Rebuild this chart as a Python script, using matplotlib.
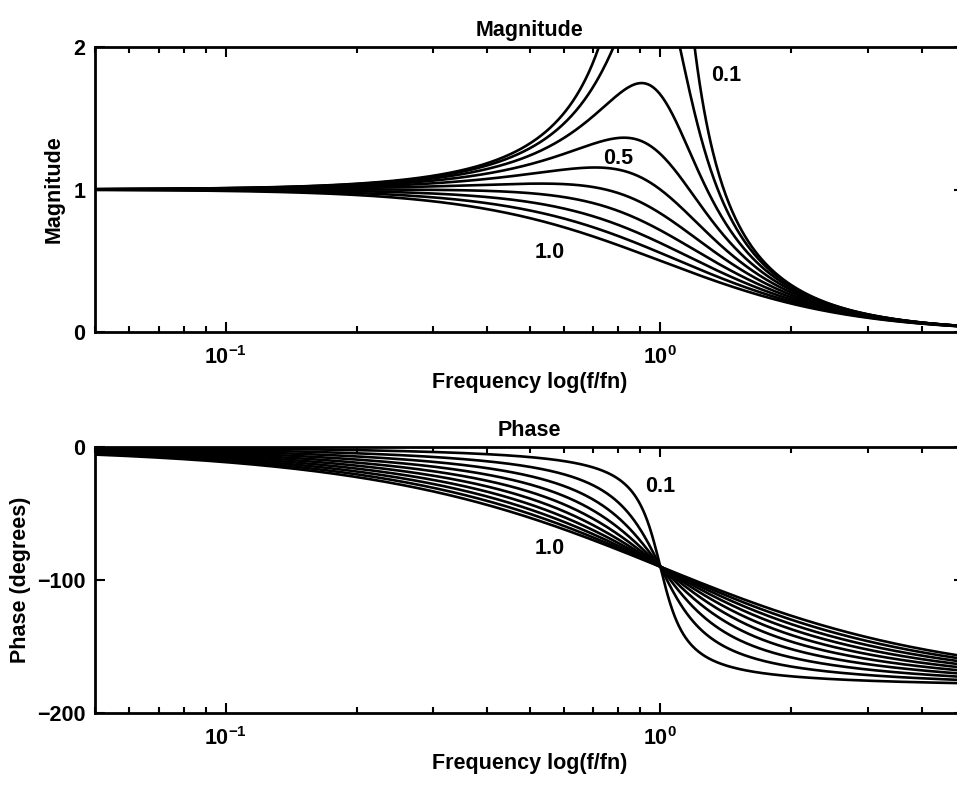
import numpy as np
import matplotlib
matplotlib.use("Agg")
import matplotlib.pyplot as plt

# damping ratios of the second-order system, 0.1 ... 1.0
damping = [0.1, 0.2, 0.3, 0.4, 0.5, 0.6, 0.7, 0.8, 0.9, 1.0]

# frequency range (f/fn)
f_min, f_max = 0.05, 5.0

# curve labels: (text, x, y)
mag_labels = [("0.1", 1.42, 1.80), ("0.5", 0.80, 1.22), ("1.0", 0.555, 0.56)]
phase_labels = [("0.1", 1.0, -30), ("1.0", 0.555, -76)]

plt.rcParams['font.family'] = ['Liberation Sans', 'DejaVu Sans']
plt.rcParams['font.weight'] = 'bold'
plt.rcParams['axes.labelweight'] = 'bold'
plt.rcParams['axes.titleweight'] = 'bold'
plt.rcParams['mathtext.fontset'] = 'custom'
plt.rcParams['mathtext.rm'] = 'Liberation Sans:bold'
plt.rcParams['mathtext.it'] = 'Liberation Sans:bold:italic'
plt.rcParams['mathtext.bf'] = 'Liberation Sans:bold'
plt.rcParams['font.size'] = 15.5

fig = plt.figure(figsize=(9.57, 7.97), dpi=100)
ax1 = fig.add_axes([0.0993, 0.5834, 0.908, 0.3576])
ax2 = fig.add_axes([0.0993, 0.1054, 0.908, 0.3338])

r = np.logspace(np.log10(f_min), np.log10(f_max), 800)
for z in damping:
    h = 1.0 / (1 - r ** 2 + 2j * z * r)
    ax1.plot(r, np.abs(h), color='black', lw=1.9)
    ax2.plot(r, np.degrees(np.angle(h)), color='black', lw=1.9)

for ax in (ax1, ax2):
    ax.set_xscale('log')
    ax.set_xlim(f_min, f_max)
    ax.tick_params(which='both', direction='in', top=True, right=True, width=1.5)
    ax.tick_params(which='major', length=7, pad=7)
    ax.tick_params(which='minor', length=4)
    ax.tick_params(axis='x', pad=10)
    for s in ax.spines.values():
        s.set_linewidth(2)
    ax.set_xlabel('Frequency log(f/fn)', labelpad=2)

ax1.set_ylim(0, 2)
ax1.set_yticks([0, 1, 2])
ax1.set_ylabel('Magnitude', labelpad=6)
ax1.set_title('Magnitude', pad=8, fontsize=15.5)

ax2.set_ylim(-200, 0)
ax2.set_yticks([-200, -100, 0])
ax2.set_ylabel('Phase (degrees)', labelpad=4)
ax2.set_title('Phase', pad=8, fontsize=15.5)

for txt, x, y in mag_labels:
    ax1.text(x, y, txt, ha='center', va='center')
for txt, x, y in phase_labels:
    ax2.text(x, y, txt, ha='center', va='center')

fig.savefig('out.png', dpi=100)
